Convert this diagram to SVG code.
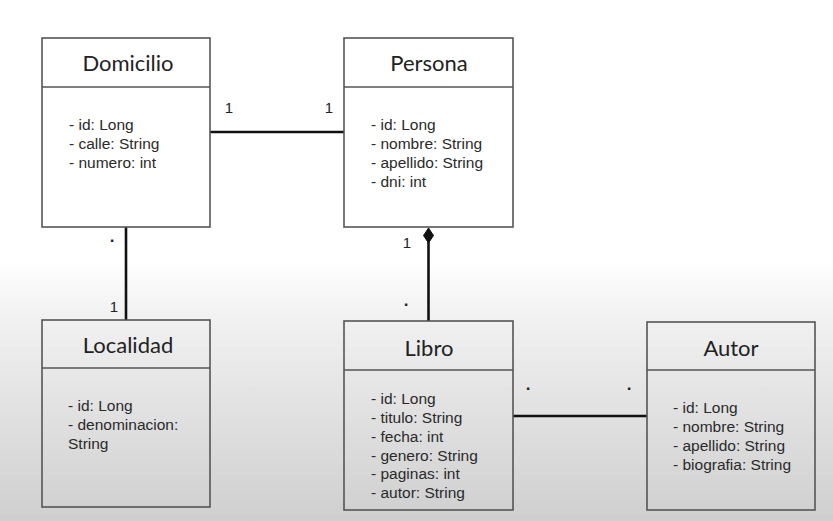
<svg xmlns="http://www.w3.org/2000/svg" width="833" height="521" viewBox="0 0 833 521">
<defs>
<linearGradient id="bg" x1="0" y1="0" x2="0" y2="1">
<stop offset="0" stop-color="#ffffff"/>
<stop offset="0.5" stop-color="#ffffff"/>
<stop offset="0.6" stop-color="#f2f2f2"/>
<stop offset="0.78" stop-color="#e2e2e2"/>
<stop offset="1" stop-color="#cfcfcf"/>
</linearGradient>
</defs>
<style>
.box{fill:none;stroke:#555;stroke-width:1.6}
.title{font-family:Lato,"Liberation Sans",sans-serif;font-size:22px;fill:#222;text-anchor:middle}
.attr{font-family:"Liberation Sans",Arial,sans-serif;font-size:15.5px;fill:#2a2a2a}
.conn{stroke:#111;stroke-width:2.6;fill:none}
.mult{font-family:"Liberation Sans",Arial,sans-serif;font-size:15px;fill:#222;text-anchor:middle}
.dot{font-family:"Liberation Sans",Arial,sans-serif;font-size:17px;font-weight:bold;fill:#222;text-anchor:middle}
</style>
<rect width="833" height="521" fill="url(#bg)"/>
<g id="connectors">
<line class="conn" x1="210" y1="132" x2="344" y2="132"/>
<line class="conn" x1="126" y1="227" x2="126" y2="320"/>
<line class="conn" x1="428.5" y1="240" x2="428.5" y2="321"/>
<polygon points="428.5,228 433.5,235.5 428.5,243 423.5,235.5" fill="#111" stroke="#111" stroke-width="1"/>
<line class="conn" x1="513" y1="416" x2="647" y2="416"/>
<text class="mult" x="229" y="113">1</text>
<text class="mult" x="329" y="113">1</text>
<text class="dot" x="112" y="242">.</text>
<text class="mult" x="114" y="312">1</text>
<text class="mult" x="407" y="248">1</text>
<text class="dot" x="406" y="306">.</text>
<text class="dot" x="528" y="390">.</text>
<text class="dot" x="629" y="390">.</text>
</g>
<g id="Domicilio">
<rect class="box" x="42" y="38" width="168" height="189"/>
<line class="box" x1="42" y1="87" x2="210" y2="87"/>
<text class="title" x="128" y="71">Domicilio</text>
<text class="attr" x="69" y="130">- id: Long</text>
<text class="attr" x="69" y="149">- calle: String</text>
<text class="attr" x="69" y="168">- numero: int</text>
</g>
<g id="Persona">
<rect class="box" x="344" y="38" width="169" height="189"/>
<line class="box" x1="344" y1="87" x2="513" y2="87"/>
<text class="title" x="429" y="71">Persona</text>
<text class="attr" x="371" y="130">- id: Long</text>
<text class="attr" x="371" y="149">- nombre: String</text>
<text class="attr" x="371" y="168">- apellido: String</text>
<text class="attr" x="371" y="187">- dni: int</text>
</g>
<g id="Localidad">
<rect class="box" x="42" y="320" width="168" height="187"/>
<line class="box" x1="42" y1="368" x2="210" y2="368"/>
<text class="title" x="128" y="353">Localidad</text>
<text class="attr" x="68" y="411">- id: Long</text>
<text class="attr" x="68" y="430">- denominacion:</text>
<text class="attr" x="68" y="449">String</text>
</g>
<g id="Libro">
<rect class="box" x="344" y="321" width="169" height="189"/>
<line class="box" x1="344" y1="370" x2="513" y2="370"/>
<text class="title" x="429" y="356">Libro</text>
<text class="attr" x="371" y="404">- id: Long</text>
<text class="attr" x="371" y="423">- titulo: String</text>
<text class="attr" x="371" y="442">- fecha: int</text>
<text class="attr" x="371" y="461">- genero: String</text>
<text class="attr" x="371" y="479">- paginas: int</text>
<text class="attr" x="371" y="498">- autor: String</text>
</g>
<g id="Autor">
<rect class="box" x="647" y="322" width="168" height="188"/>
<line class="box" x1="647" y1="370" x2="815" y2="370"/>
<text class="title" x="731" y="356">Autor</text>
<text class="attr" x="673" y="413">- id: Long</text>
<text class="attr" x="673" y="432">- nombre: String</text>
<text class="attr" x="673" y="451">- apellido: String</text>
<text class="attr" x="673" y="470">- biografia: String</text>
</g>
</svg>
